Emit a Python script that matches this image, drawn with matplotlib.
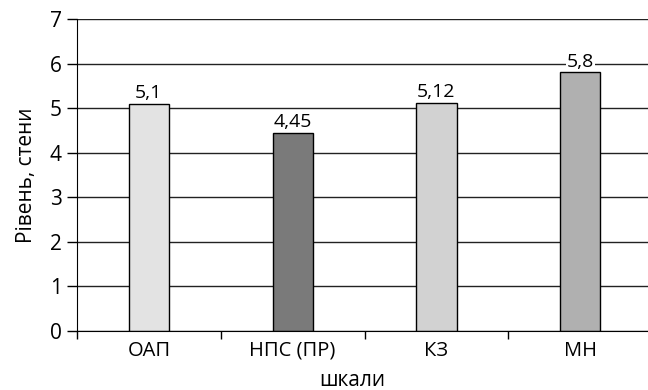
import matplotlib
matplotlib.use("Agg")
import matplotlib.pyplot as plt

plt.rcParams["font.family"] = ["Open Sans", "DejaVu Sans"]

# дані
scales = ["ОАП", "НПС (ПР)", "КЗ", "МН"]
values = [5.1, 4.45, 5.12, 5.8]
value_labels = ["5,1", "4,45", "5,12", "5,8"]
colors = ["#e3e3e3", "#7a7a7a", "#d2d2d2", "#b0b0b0"]
y_ticks = [0, 1, 2, 3, 4, 5, 6, 7]

fig = plt.figure(figsize=(6.48, 3.9), dpi=100)
ax = fig.add_axes([77 / 648, 1 - 331 / 390, (652 - 77) / 648, 312 / 390])

x = list(range(len(scales)))
ax.set_axisbelow(True)
ax.yaxis.grid(True, color="#222222", linewidth=1.0)
bars = ax.bar(x, values, width=0.28, color=colors, edgecolor="black", linewidth=1.0, zorder=2)

for b, lab in zip(bars, value_labels):
    ax.text(b.get_x() + b.get_width() / 2, b.get_height() + 0.04, lab,
            ha="center", va="bottom", fontsize=14, zorder=3,
            bbox=dict(facecolor="white", edgecolor="none", pad=0.5))

ax.set_xlim(-0.5, len(scales) - 0.5)
ax.set_ylim(0, 7)
ax.set_yticks(y_ticks)
ax.set_xticks([i + 0.5 for i in range(-1, len(scales))], minor=False)
ax.set_xticklabels([])
ax.set_xticks(x, minor=True)
ax.set_xticklabels(scales, minor=True)
ax.tick_params(axis="x", which="major", direction="out", length=6, width=1, color="black")
ax.tick_params(axis="x", which="minor", length=0, pad=7, labelsize=14.5)
ax.tick_params(axis="y", direction="out", length=7, width=1, color="black", labelsize=15, pad=4)

for s in ["top", "right"]:
    ax.spines[s].set_visible(False)
ax.spines["left"].set_color("black")
ax.spines["bottom"].set_color("black")

ax.set_ylabel("Рівень, стени", fontsize=15)
ax.yaxis.set_label_coords(-0.07, 0.5)
ax.set_xlabel("шкали", fontsize=15)
ax.xaxis.set_label_coords(0.478, -0.125)

fig.savefig("out.png", dpi=100)
